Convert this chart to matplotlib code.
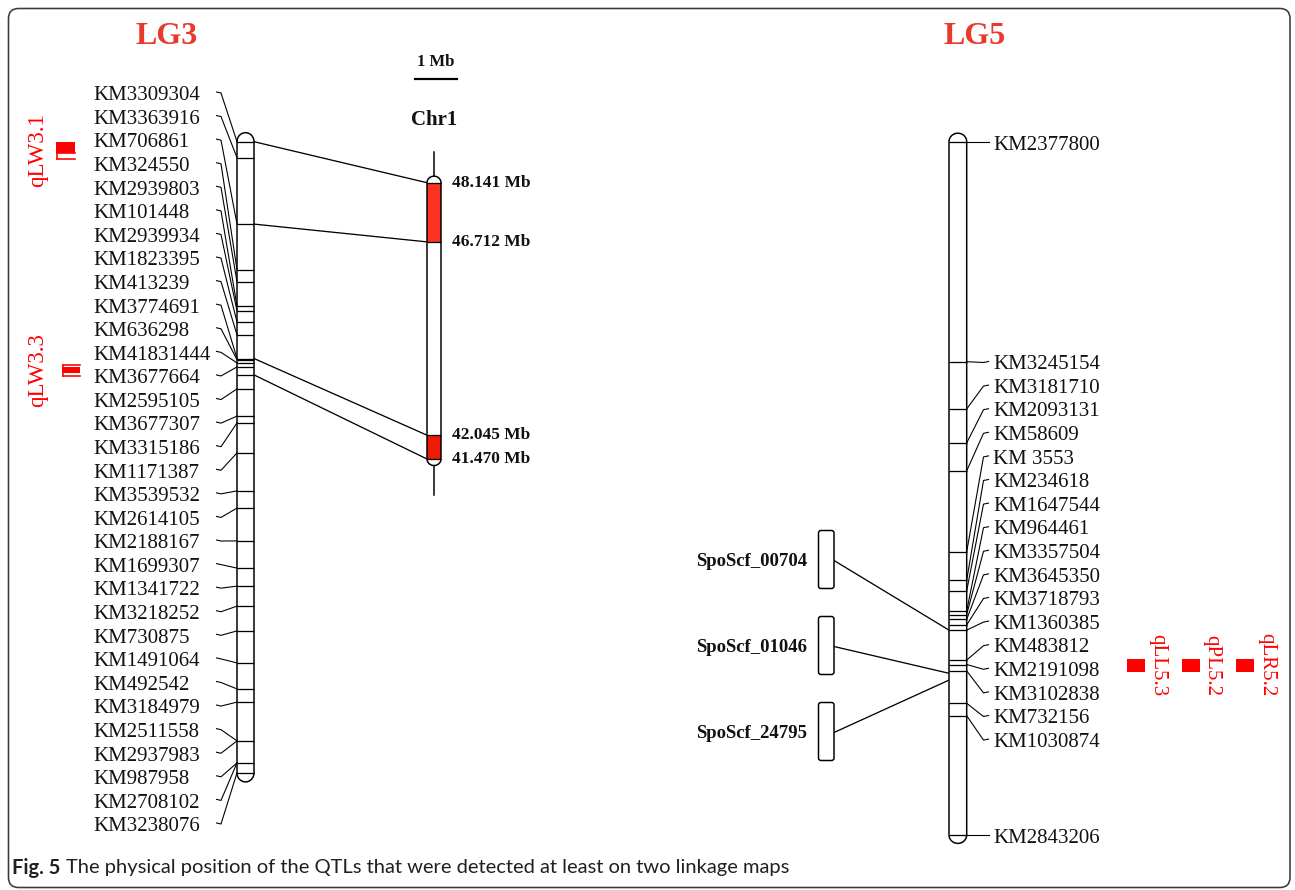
import numpy as np
import matplotlib
matplotlib.use("Agg")
import matplotlib.pyplot as plt
from matplotlib.patches import FancyBboxPatch, Rectangle, Polygon

# ---------------- data ----------------
lg3_markers = ['KM3309304', 'KM3363916', 'KM706861', 'KM324550', 'KM2939803', 'KM101448',
               'KM2939934', 'KM1823395', 'KM413239', 'KM3774691', 'KM636298', 'KM41831444',
               'KM3677664', 'KM2595105', 'KM3677307', 'KM3315186', 'KM1171387', 'KM3539532',
               'KM2614105', 'KM2188167', 'KM1699307', 'KM1341722', 'KM3218252', 'KM730875',
               'KM1491064', 'KM492542', 'KM3184979', 'KM2511558', 'KM2937983', 'KM987958',
               'KM2708102', 'KM3238076']
lg3_pos_cm = [0.0, 4.0, 20.6, 32.0, 35.0, 41.1, 42.3, 45.1, 48.3, 54.2, 54.5, 55.3,
              56.3, 61.8, 68.6, 70.3, 77.8, 87.3, 91.6, 99.8, 106.6, 111.1, 116.1, 122.3,
              130.3, 136.8, 140.1, 149.8, 149.8, 155.3, 155.3, 157.8]
lg3_length_cm = 157.8

lg3_anchor_cm = [0.0, 20.6, 54.2, 58.3]
chr1_anchor_mb = [48.141, 46.712, 42.045, 41.470]
chr1_red_segments = [(48.141, 46.712), (42.045, 41.470)]

lg3_qtl_names = ['qLW3.1', 'qLW3.3']
lg3_qtl_box_cm = [(0.0, 2.7), (56.4, 57.7)]
lg3_qtl_whisker_cm = [(2.7, 4.2), (55.8, 58.6)]

lg5_markers = ['KM2377800', 'KM3245154', 'KM3181710', 'KM2093131', 'KM58609', 'KM 3553',
               'KM234618', 'KM1647544', 'KM964461', 'KM3357504', 'KM3645350', 'KM3718793',
               'KM1360385', 'KM483812', 'KM2191098', 'KM3102838', 'KM732156', 'KM1030874',
               'KM2843206']
lg5_pos_cm = [0.0, 55.0, 66.8, 75.3, 82.3, 102.5, 109.6, 112.3, 117.3, 118.2, 119.4, 120.8,
              122.1, 129.6, 130.7, 132.3, 140.4, 143.5, 173.3]
lg5_length_cm = 173.3

scaffolds = ['SpoScf_00704', 'SpoScf_01046', 'SpoScf_24795']
scaffold_anchor_cm = [122.1, 132.9, 134.6]

lg5_qtl_names = ['qLL5.3', 'qPL5.2', 'qLR5.2']
lg5_qtl_box_cm = [(129.2, 132.5), (129.2, 132.5), (129.2, 132.5)]

caption_bold = 'Fig. 5'
caption_text = 'The physical position of the QTLs that were detected at least on two linkage maps'

# ---------------- layout / style ----------------
W, H = 1295, 890
SERIF = ['Liberation Serif', 'DejaVu Serif']
RED_T = '#e8392c'
QRED = '#ff0000'
PX = 0.72  # points per pixel
TXT_DY = 1.8  # visual centring offset for text

fig = plt.figure(figsize=(W / 100, H / 100), dpi=100)
ax = fig.add_axes([0, 0, 1, 1])
ax.set_xlim(0, W)
ax.set_ylim(H, 0)
ax.axis('off')

CM_PX = 4.0
LG_TOP = 141.7


def lg_y(cm):
    return LG_TOP + np.asarray(cm, dtype=float) * CM_PX


CHR1_TOP = 182.7
CHR1_BOT = 459.0
mb_hi, mb_lo = max(chr1_anchor_mb), min(chr1_anchor_mb)
MB_PX = (CHR1_BOT - CHR1_TOP) / (mb_hi - mb_lo)


def chr1_y(mb):
    return CHR1_TOP + (mb_hi - np.asarray(mb, dtype=float)) * MB_PX


def draw_chrom(x0, x1, ytop, ybot, cap, bands, fills=(), lw=1.5):
    xc, r = (x0 + x1) / 2, (x1 - x0) / 2
    th = np.linspace(np.pi, 0, 40)
    top = np.column_stack([xc + r * np.cos(th), ytop - cap * np.sin(th)])
    th2 = np.linspace(0, -np.pi, 40)
    bot = np.column_stack([xc + r * np.cos(th2), ybot - cap * np.sin(th2)])
    pts = np.vstack([top, bot])
    ax.add_patch(Polygon(pts, closed=True, fc='white', ec='none', zorder=2))
    for (ya, yb, col) in fills:
        ax.add_patch(Rectangle((x0, ya), x1 - x0, yb - ya, fc=col, ec='none', zorder=3))
    ax.add_patch(Polygon(pts, closed=True, fc='none', ec='black', lw=lw * PX, zorder=5))
    for by in bands:
        ax.plot([x0, x1], [by, by], color='black', lw=1.3 * PX, zorder=5,
                solid_capstyle='butt')


# ---------------- LG3 ----------------
L3X0, L3X1 = 237.0, 254.0
lg3_band_y = lg_y(sorted(set(lg3_pos_cm) | set(lg3_anchor_cm)))
draw_chrom(L3X0, L3X1, lg_y(0), lg_y(lg3_length_cm), 9.0, lg3_band_y)

lab3_y0, lab_dy = 95.0, 23.58
for i, (name, cm) in enumerate(zip(lg3_markers, lg3_pos_cm)):
    ly = lab3_y0 + i * lab_dy
    by = float(lg_y(cm))
    ax.text(93, ly + TXT_DY - 1, name, ha='left', va='center', fontsize=15, family=SERIF,
            color='#111')
    ax.plot([216.5, 221, L3X0], [ly - 3, ly - 2, by], color='black', lw=1.1 * PX, zorder=4)

ax.text(167, 37, 'LG3', ha='center', va='center', fontsize=23,
        family=SERIF, weight='bold', color=RED_T)

# LG3 QTLs
for name, (b0, b1), (w0, w1) in zip(lg3_qtl_names, lg3_qtl_box_cm, lg3_qtl_whisker_cm):
    qx0, qx1 = (56.0, 75.0) if name.endswith('.1') else (62.0, 80.0)
    yb0, yb1 = float(lg_y(b0)), float(lg_y(b1))
    yw0, yw1 = float(lg_y(w0)), float(lg_y(w1))
    ax.add_patch(Rectangle((qx0, yb0), qx1 - qx0, yb1 - yb0, fc=QRED, ec='none', zorder=4))
    ax.plot([qx0 + 1, qx0 + 1], [yw0, yw1], color=QRED, lw=1.6 * PX)
    ax.plot([qx0 + 1, qx1], [yw0, yw0], color=QRED, lw=1.6 * PX)
    ax.plot([qx0 + 1, qx1], [yw1, yw1], color=QRED, lw=1.6 * PX)
    ax.text(38, (min(yb0, yw0) + max(yb1, yw1)) / 2, name, rotation=90, ha='center',
            va='center', fontsize=16.5, family=SERIF, color=QRED)

# ---------------- Chr1 ----------------
C1X0, C1X1 = 427.0, 441.0
C1XC = (C1X0 + C1X1) / 2
fills = [(float(chr1_y(a)), float(chr1_y(b)), col)
         for (a, b), col in zip(chr1_red_segments, ['#fb3323', '#ee1a06'])]
ax.plot([C1XC, C1XC], [152, CHR1_TOP], color='black', lw=1.5 * PX, zorder=1)
ax.plot([C1XC, C1XC], [CHR1_BOT, 495], color='black', lw=1.5 * PX, zorder=1)
draw_chrom(C1X0, C1X1, CHR1_TOP, CHR1_BOT, 6.5, chr1_y(chr1_anchor_mb), fills=fills)
for mb in chr1_anchor_mb:
    ax.text(452, float(chr1_y(mb)) - 1.5 + TXT_DY, f'{mb:.3f} Mb', ha='left', va='center',
            fontsize=12.5, family=SERIF, weight='bold', color='#111')
ax.text(C1XC, 118 + TXT_DY, 'Chr1', ha='center', va='center', fontsize=15, family=SERIF,
        weight='bold', color='#111')
# scale bar 1 Mb
ax.plot([436 - MB_PX / 2, 436 + MB_PX / 2], [79, 79], color='black', lw=2.2 * PX)
ax.text(436, 60 + TXT_DY, '1 Mb', ha='center', va='center', fontsize=12, family=SERIF,
        weight='bold', color='#111')

# connections LG3 -> Chr1
for cm, mb in zip(lg3_anchor_cm, chr1_anchor_mb):
    ax.plot([L3X1, C1X0], [float(lg_y(cm)), float(chr1_y(mb))], color='black',
            lw=1.3 * PX, zorder=1)

# ---------------- LG5 ----------------
L5X0, L5X1 = 949.0, 966.7
draw_chrom(L5X0, L5X1, lg_y(0), lg_y(lg5_length_cm), 8.5, lg_y(lg5_pos_cm))
ax.text(975, 37, 'LG5', ha='center', va='center', fontsize=23, family=SERIF,
        weight='bold', color=RED_T)

n5 = len(lg5_markers)
for i, (name, cm) in enumerate(zip(lg5_markers, lg5_pos_cm)):
    by = float(lg_y(cm))
    if i == 0 or i == n5 - 1:
        ly = by + 2.5
        pts_y = [by, by, by]
    else:
        ly = 364.0 + (i - 1) * 23.6
        pts_y = [by, ly - 1.5, ly - 2.5]
    ax.text(993, ly + TXT_DY - 1, name, ha='left', va='center', fontsize=15, family=SERIF,
            color='#111')
    ax.plot([L5X1, 983.5, 988.5], pts_y, color='black', lw=1.1 * PX, zorder=4)

# scaffolds
for k, (name, cm) in enumerate(zip(scaffolds, scaffold_anchor_cm)):
    yc = 559.5 + k * 86.0
    ax.add_patch(FancyBboxPatch((818.5, yc - 29), 15.5, 58,
                                boxstyle='round,pad=0,rounding_size=2.5',
                                fc='white', ec='black', lw=1.5 * PX, zorder=3))
    ax.text(807, yc + TXT_DY, name, ha='right', va='center', fontsize=13.5, family=SERIF,
            weight='bold', color='#111')
    ax.plot([834, L5X0], [yc + 1, float(lg_y(cm))], color='black', lw=1.3 * PX, zorder=1)

# LG5 QTLs
for k, (name, (b0, b1)) in enumerate(zip(lg5_qtl_names, lg5_qtl_box_cm)):
    xc = 1136.0 + k * 54.5
    y0, y1 = float(lg_y(b0)), float(lg_y(b1))
    ax.add_patch(Rectangle((xc - 9, y0), 18, y1 - y0, fc=QRED, ec='none', zorder=4))
    ax.text(xc + 21.5, (y0 + y1) / 2, name, rotation=270, ha='center', va='center',
            fontsize=15, family=SERIF, color=QRED)

# ---------------- frame & caption ----------------
ax.add_patch(FancyBboxPatch((8.5, 8.5), 1281.5, 879, boxstyle='round,pad=0,rounding_size=10',
                            fc='none', ec='#3a3a3a', lw=1.6 * PX, zorder=6))

t1 = ax.text(12, 868, caption_bold, ha='left', va='center', fontsize=14.5, family='Lato',
             weight='bold', color='#231f20')
fig.canvas.draw()
bb = t1.get_window_extent(renderer=fig.canvas.get_renderer())
x_end = bb.x1  # display pixels == data x here
ax.text(x_end + 6, 868, caption_text, ha='left', va='center', fontsize=14.5, family='Lato',
        color='#231f20')

fig.savefig('out.png', dpi=100)
